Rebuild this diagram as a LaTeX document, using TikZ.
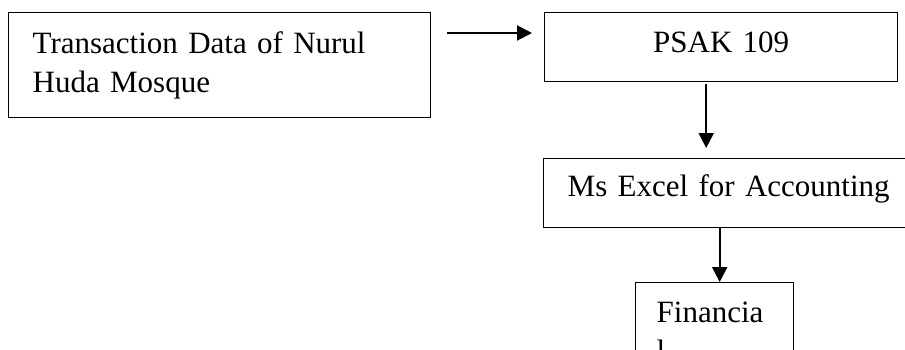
\documentclass[tikz,border=0pt]{standalone}
\usepackage{fontspec}
\setmainfont{Liberation Serif}
\usetikzlibrary{positioning, arrows.meta}
\tikzset{
    kasten/.style={
        rectangle,
        draw=black,
        line width=1.4pt,
        anchor=north west,
        inner xsep=24pt,
        inner ysep=0pt,
        font=\fontsize{31}{39}\selectfont,
        align=left
    },
    pfeil/.style={
        -{Triangle[length=15pt,width=15pt]},
        line width=2pt
    }
}

\begin{document}
\begin{tikzpicture}[x=1pt,y=-1pt]

    % Rahmen wie im Original, rechts und unten abgeschnitten
    \useasboundingbox (0,0) rectangle (905,349);
    \clip (0,0) rectangle (905,349);

    % Kasten links oben
    \node[kasten, text width=374pt, minimum height=105pt] (daten) at (8,12) {Transaction Data of Nurul\\Huda Mosque};

    % Kasten rechts oben
    \node[kasten, align=center, text width=305pt, text height=40pt, text depth=29pt] (psak) at (544,12) {PSAK 109};

    % Kasten Mitte, rechter Rand ausserhalb
    \node[kasten, text width=330pt, text height=38pt, text depth=31pt] (excel) at (543,158) {Ms Excel for Accounting};

    % Kasten unten, unterer Rand ausserhalb
    \node[kasten, inner xsep=21pt, text width=116pt, text height=40pt, text depth=80pt] (bericht) at (635,282) {Financia\\l};

    % Pfeile
    \draw[pfeil] ([xshift=16pt,yshift=-21pt]daten.north east) -- ([xshift=-12pt,yshift=-21pt]psak.north west);
    \draw[pfeil, shorten >=10pt] ([xshift=-15pt,yshift=-2pt]psak.south) -- ([xshift=-15pt]psak.south |- excel.north);
    \draw[pfeil] ([xshift=5pt]bericht.north |- excel.south) -- ([xshift=5pt]bericht.north);

\end{tikzpicture}
\end{document}
